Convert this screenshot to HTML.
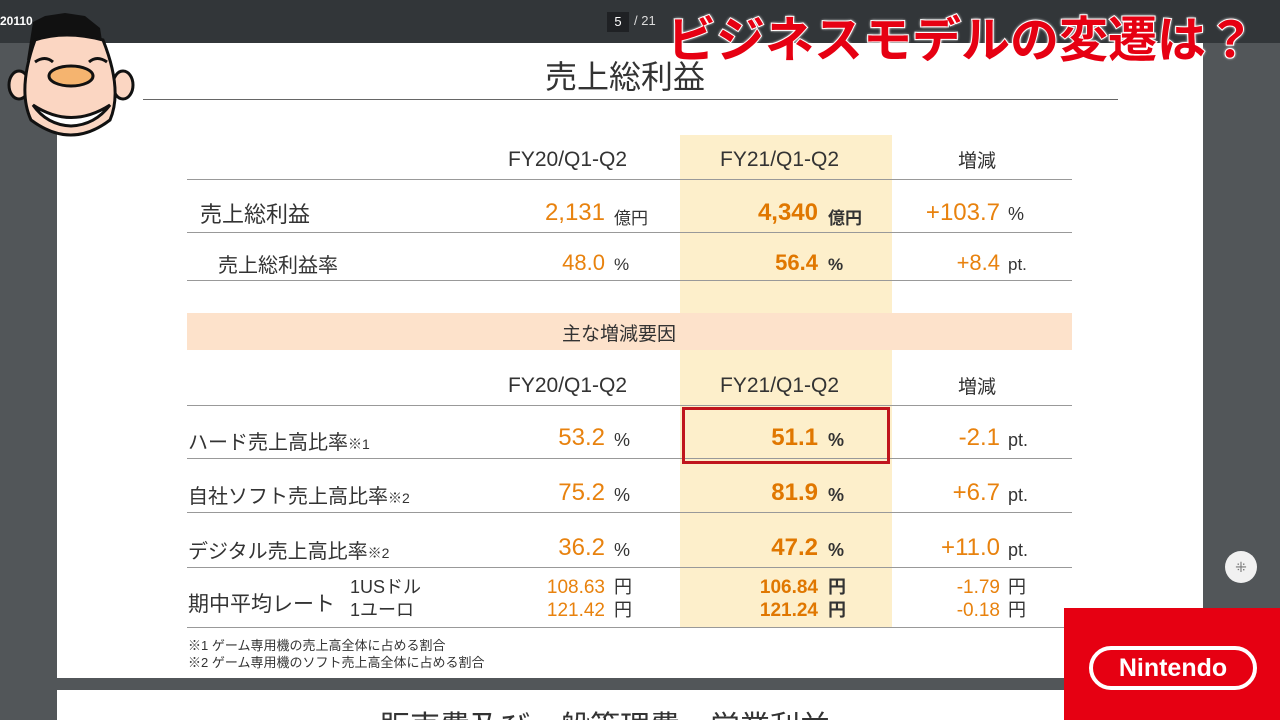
<!DOCTYPE html>
<html style="overflow:hidden;width:1280px;height:720px"><head><meta charset="utf-8">
<style>
*{margin:0;padding:0;box-sizing:border-box}
body{width:1280px;height:720px;overflow:hidden;background:#525659;position:relative;font-family:"Liberation Sans","Noto Sans CJK JP",sans-serif}
.a{position:absolute;white-space:nowrap}
.o{color:#e8820e}
.ob{color:#e07700;font-weight:bold}
.g{color:#333}
.ln{position:absolute;left:187px;width:885px;height:1px;background:#999}
.r{position:absolute;text-align:right;white-space:nowrap;width:200px}
.u{position:absolute;white-space:nowrap;color:#333}
</style></head><body>
<div class="a" style="left:0;top:0;width:1280px;height:43px;background:#323639"></div>
<div class="a" style="left:0;top:14px;color:#fff;font-size:12px;font-weight:bold">20110&nbsp;</div>
<div class="a" style="left:607px;top:12px;width:22px;height:20px;background:#1f2124;color:#fff;font-size:13px;text-align:center;line-height:20px">5</div>
<div class="a" style="left:634px;top:13px;color:#ddd;font-size:13px">/ 21</div>
<div class="a" style="left:57px;top:43px;width:1146px;height:635px;background:#fff"></div>
<div class="a" style="left:57px;top:690px;width:1146px;height:30px;background:#fff;overflow:hidden">
<div class="a g" style="left:323px;top:12px;font-size:30px">販売費及び一般管理費・営業利益</div></div>
<div class="a g" style="left:545px;top:52px;font-size:32px">売上総利益</div>
<div class="a" style="left:143px;top:99px;width:975px;height:1px;background:#666"></div>
<div class="a" style="left:680px;top:135px;width:212px;height:492px;background:#fdefcb"></div>
<div class="a" style="left:187px;top:313px;width:885px;height:37px;background:#fde2cb"></div>
<div class="a g" style="left:562px;top:319px;font-size:19px">主な増減要因</div>
<div class="ln" style="top:179px"></div><div class="ln" style="top:232px"></div><div class="ln" style="top:280px"></div>
<div class="ln" style="top:405px"></div><div class="ln" style="top:458px"></div><div class="ln" style="top:512px"></div><div class="ln" style="top:567px"></div><div class="ln" style="top:627px"></div>
<div class="a g" style="left:508px;top:148px;font-size:21px">FY20/Q1-Q2</div>
<div class="a g" style="left:720px;top:148px;font-size:21px">FY21/Q1-Q2</div>
<div class="a g" style="left:958px;top:146px;font-size:19px">増減</div>
<div class="a g" style="left:508px;top:374px;font-size:21px">FY20/Q1-Q2</div>
<div class="a g" style="left:720px;top:374px;font-size:21px">FY21/Q1-Q2</div>
<div class="a g" style="left:958px;top:372px;font-size:19px">増減</div>

<div class="a g" style="left:200px;top:197px;font-size:22px">売上総利益</div>
<div class="r o" style="left:405px;top:199px;font-size:24px">2,131</div><div class="u" style="left:614px;top:204px;font-size:17px">億円</div>
<div class="r ob" style="left:618px;top:199px;font-size:24px">4,340</div><div class="u" style="left:828px;top:204px;font-size:17px;font-weight:bold">億円</div>
<div class="r o" style="left:800px;top:199px;font-size:24px">+103.7</div><div class="u" style="left:1008px;top:204px;font-size:18px">%</div>

<div class="a g" style="left:218px;top:249px;font-size:20px">売上総利益率</div>
<div class="r o" style="left:405px;top:250px;font-size:22px">48.0</div><div class="u" style="left:614px;top:255px;font-size:17px">%</div>
<div class="r ob" style="left:618px;top:250px;font-size:22px">56.4</div><div class="u" style="left:828px;top:255px;font-size:17px;font-weight:bold">%</div>
<div class="r o" style="left:800px;top:250px;font-size:22px">+8.4</div><div class="u" style="left:1008px;top:255px;font-size:17px">pt.</div>

<div class="a g" style="left:188px;top:426px;font-size:20px">ハード売上高比率<span style="font-size:14px">※1</span></div>
<div class="r o" style="left:405px;top:424px;font-size:24px">53.2</div><div class="u" style="left:614px;top:430px;font-size:18px">%</div>
<div class="a" style="left:682px;top:407px;width:208px;height:57px;border:3px solid #c0151d"></div>
<div class="r ob" style="left:618px;top:424px;font-size:24px">51.1</div><div class="u" style="left:828px;top:430px;font-size:18px;font-weight:bold">%</div>
<div class="r o" style="left:800px;top:424px;font-size:24px">-2.1</div><div class="u" style="left:1008px;top:430px;font-size:18px">pt.</div>

<div class="a g" style="left:188px;top:480px;font-size:20px">自社ソフト売上高比率<span style="font-size:14px">※2</span></div>
<div class="r o" style="left:405px;top:479px;font-size:24px">75.2</div><div class="u" style="left:614px;top:485px;font-size:18px">%</div>
<div class="r ob" style="left:618px;top:479px;font-size:24px">81.9</div><div class="u" style="left:828px;top:485px;font-size:18px;font-weight:bold">%</div>
<div class="r o" style="left:800px;top:479px;font-size:24px">+6.7</div><div class="u" style="left:1008px;top:485px;font-size:18px">pt.</div>

<div class="a g" style="left:188px;top:535px;font-size:20px">デジタル売上高比率<span style="font-size:14px">※2</span></div>
<div class="r o" style="left:405px;top:534px;font-size:24px">36.2</div><div class="u" style="left:614px;top:540px;font-size:18px">%</div>
<div class="r ob" style="left:618px;top:534px;font-size:24px">47.2</div><div class="u" style="left:828px;top:540px;font-size:18px;font-weight:bold">%</div>
<div class="r o" style="left:800px;top:534px;font-size:24px">+11.0</div><div class="u" style="left:1008px;top:540px;font-size:18px">pt.</div>

<div class="a g" style="left:188px;top:588px;font-size:21px">期中平均レート</div>
<div class="a g" style="left:350px;top:576px;font-size:18px;line-height:23px">1USドル<br>1ユーロ</div>
<div class="r o" style="left:405px;top:576px;font-size:19px;line-height:23px">108.63<br>121.42</div><div class="u" style="left:614px;top:576px;font-size:18px;line-height:23px">円<br>円</div>
<div class="r ob" style="left:618px;top:576px;font-size:19px;line-height:23px">106.84<br>121.24</div><div class="u" style="left:828px;top:576px;font-size:18px;line-height:23px;font-weight:bold">円<br>円</div>
<div class="r o" style="left:800px;top:576px;font-size:19px;line-height:23px">-1.79<br>-0.18</div><div class="u" style="left:1008px;top:576px;font-size:18px;line-height:23px">円<br>円</div>

<div class="a g" style="left:188px;top:637px;font-size:13px;line-height:17px">※1 ゲーム専用機の売上高全体に占める割合<br>※2 ゲーム専用機のソフト売上高全体に占める割合</div>
<div class="a" style="left:1225px;top:551px;width:32px;height:32px;border-radius:50%;background:#f1f1f1;color:#777;font-size:14px;text-align:center;line-height:32px">⁜</div>
<div class="a" style="left:1064px;top:608px;width:216px;height:112px;background:#e60012"></div>
<div class="a" style="left:1089px;top:646px;width:168px;height:44px;border:4px solid #fff;border-radius:22px;color:#fff;font-weight:bold;font-size:25px;text-align:center;line-height:36px">Nintendo</div>
<div class="a" style="left:667px;top:1px;font-size:49px;font-weight:bold;color:#e60012;-webkit-text-stroke:2px #fff;paint-order:stroke fill;text-shadow:0 0 3px #fff,0 0 3px #fff">ビジネスモデルの変遷は？</div>
<svg class="a" style="left:5px;top:10px" width="135" height="135" viewBox="0 0 135 135">
<path d="M22 50 L28 12 L40 6 L60 3 L80 6 L95 18 L100 50 Z" fill="#111"/>
<ellipse cx="14" cy="75" rx="10" ry="14" fill="#fbd6c2" stroke="#111" stroke-width="3"/>
<ellipse cx="118" cy="75" rx="10" ry="14" fill="#fbd6c2" stroke="#111" stroke-width="3"/>
<path d="M30 30 Q60 20 98 30 Q118 80 105 110 Q66 140 26 110 Q12 80 30 30 Z" fill="#fbd6c2" stroke="#111" stroke-width="3"/>
<ellipse cx="66" cy="66" rx="22" ry="10" fill="#f5b46f" stroke="#111" stroke-width="3"/>
<path d="M28 95 Q66 120 105 95 Q90 115 66 116 Q42 115 28 95 Z" fill="#fff" stroke="#111" stroke-width="3"/>
<path d="M30 52 Q40 45 48 52 M84 52 Q92 45 102 52" stroke="#111" stroke-width="3" fill="none"/>
</svg>
</body></html>
